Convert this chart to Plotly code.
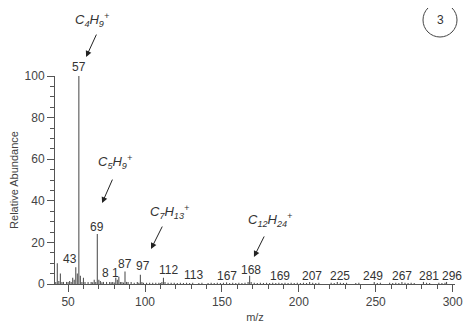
import plotly.graph_objects as go

# ---- data ----
mz = [41, 42, 43, 44, 45, 46, 47, 49, 50, 51, 52, 53, 54, 55, 56, 57, 58, 59, 60, 61,
      63, 65, 66, 67, 68, 69, 70, 71, 72, 73, 75, 77, 78, 79, 80, 81, 82, 83, 84, 85,
      86, 87, 88, 89, 91, 93, 95, 96, 97, 98, 99, 101, 103, 105, 107, 109, 110, 111, 112, 113,
      115, 117, 119, 121, 123, 125, 127, 129, 131, 135, 137, 141, 143, 145, 147, 149, 151, 153, 155, 157,
      159, 161, 163, 165, 167, 168, 169, 171, 173, 175, 177, 179, 181, 183, 185, 187, 189, 191, 193, 195,
      197, 199, 201, 203, 205, 207, 209, 211, 213, 221, 223, 225, 227, 229, 231, 237, 239, 249, 251, 253,
      259, 261, 263, 265, 267, 269, 271, 273, 275, 281, 283, 285, 291, 293, 295, 296]
abundance = [3, 1, 10, 1.5, 5, 1, 1, 1, 1, 1.5, 1, 3, 2, 8, 5, 100, 4, 1, 3, 1,
             1, 1, 0.8, 2, 1, 24, 2, 1.5, 0.8, 1, 1, 1, 0.8, 1, 0.7, 3, 2, 3.5, 1, 1,
             0.7, 6, 1, 1, 1, 0.6, 1, 0.6, 4.5, 1, 0.6, 0.6, 0.6, 0.6, 0.6, 0.6, 0.5, 1, 3, 1,
             0.6, 0.6, 0.6, 0.5, 0.6, 0.5, 0.6, 0.5, 0.6, 0.5, 0.6, 0.5, 0.6, 0.5, 0.6, 0.5, 0.6, 0.8, 0.5, 0.6,
             0.5, 0.6, 0.5, 0.6, 1, 4, 1, 0.6, 0.5, 0.6, 0.5, 0.6, 0.5, 0.6, 0.5, 0.6, 0.5, 0.6, 0.5, 0.6,
             0.5, 0.6, 0.5, 0.6, 0.5, 1, 0.6, 0.5, 0.6, 0.6, 0.5, 1, 0.6, 0.5, 0.6, 0.5, 0.6, 1, 0.5, 0.6,
             0.6, 0.5, 0.6, 0.5, 1, 0.6, 0.5, 0.6, 0.5, 1, 0.6, 0.5, 0.6, 0.5, 0.6, 1]

# peak labels: text, label position (m/z, abundance)
peak_labels = ["57", "43", "69", "8 1", "87", "97", "112", "113", "167", "168",
               "169", "207", "225", "249", "267", "281", "296"]
label_x = [57.1, 51.3, 68.8, 77.3, 87.0, 98.7, 115.0, 131.2, 153.2, 168.8,
           187.7, 208.4, 226.6, 248.0, 266.9, 284.4, 299.4]
label_y = [104.3, 12.0, 27.4, 5.3, 9.8, 8.7, 6.7, 4.3, 3.8, 6.7,
           3.8, 3.8, 3.8, 3.8, 3.8, 3.8, 3.8]

# ion annotations: text, text position, arrow head position
ion_text = ["C<sub>4</sub>H<sub>9</sub><sup>+</sup>", "C<sub>5</sub>H<sub>9</sub><sup>+</sup>",
            "C<sub>7</sub>H<sub>13</sub><sup>+</sup>", "C<sub>12</sub>H<sub>24</sub><sup>+</sup>"]
ion_tx = [65.6, 80.5, 115.6, 181.2]
ion_ty = [126.9, 58.7, 34.6, 30.8]
ion_hx = [61.7, 72.1, 103.9, 170.8]
ion_hy = [109.1, 38.9, 16.8, 13.0]
ion_tail_dx = [11, 11, 12, 11]
ion_tail_dy = [-24, -25, -24, -22]

x_ticks = [50, 100, 150, 200, 250, 300]
x_ticklabels = ["50", "100", "150", "200", "250", "300"]
y_ticks = [0, 20, 40, 60, 80, 100]
Y_MAX = 100

# ---- figure ----
xs, ys = [], []
for m, a in zip(mz, abundance):
    xs += [m, m, None]
    ys += [0, a, None]

fig = go.Figure()
fig.add_trace(go.Scatter(x=xs, y=ys, mode="lines",
                         line=dict(color="#555555", width=1.1),
                         hoverinfo="skip", showlegend=False, cliponaxis=False))

FONT = "Liberation Sans, Arial, sans-serif"
for t, x, y in zip(peak_labels, label_x, label_y):
    fig.add_annotation(x=x, y=y / Y_MAX, xref="x", yref="y domain", text=t, showarrow=False,
                       xanchor="center", yanchor="middle",
                       font=dict(family=FONT, size=12, color="#333333"))

for t, tx, ty, hx, hy, dx, dy in zip(ion_text, ion_tx, ion_ty, ion_hx, ion_hy,
                                     ion_tail_dx, ion_tail_dy):
    fig.add_annotation(x=tx, y=ty / Y_MAX, xref="x", yref="y domain",
                       text="<i>" + t + "</i>", showarrow=False,
                       xanchor="center", yanchor="middle",
                       font=dict(family=FONT, size=13, color="#333333"))
    fig.add_annotation(x=hx, y=hy / Y_MAX, xref="x", yref="y domain", text="",
                       showarrow=True, ax=dx, ay=dy,
                       arrowhead=2, arrowsize=1.2, arrowwidth=1,
                       arrowcolor="#222222", standoff=0)

# circled "3"
fig.add_shape(type="circle", xref="paper", yref="paper",
              x0=(423 - 55) / 400, x1=(457 - 55) / 400,
              y0=(284 - 37) / 208, y1=(284 - 3) / 208,
              line=dict(color="#444444", width=1))
fig.add_annotation(xref="paper", yref="paper", x=(440 - 55) / 400, y=(284 - 20) / 208,
                   text="3", showarrow=False, xanchor="center", yanchor="middle",
                   font=dict(family=FONT, size=12, color="#333333"))

# the page body adds an 8px offset, so the figure is 8px smaller
fig.update_layout(
    width=465, height=318,
    margin=dict(l=47, r=18, t=68, b=42, autoexpand=False),
    paper_bgcolor="white", plot_bgcolor="white",
    font=dict(family=FONT, size=12, color="#444444"),
    xaxis=dict(range=[41.5, 301.5], tickvals=x_ticks, ticktext=x_ticklabels,
               automargin=False,
               showgrid=False, zeroline=False, showline=True,
               linecolor="#555555", linewidth=1,
               ticks="outside", ticklen=7, tickcolor="#555555",
               minor=dict(dtick=10, tick0=0, ticks="outside", ticklen=4, tickcolor="#555555"),
               title=dict(text="m/z", font=dict(size=11), standoff=4)),
    yaxis=dict(range=[0, Y_MAX], tickvals=y_ticks,
               automargin=False,
               showgrid=False, zeroline=False, showline=True,
               linecolor="#555555", linewidth=1,
               ticks="outside", ticklen=7, tickcolor="#555555",
               minor=dict(dtick=5, tick0=0, ticks="outside", ticklen=4, tickcolor="#555555"),
               title=dict(text="Relative Abundance", font=dict(size=11), standoff=4)),
)

fig.write_html("out.html")
